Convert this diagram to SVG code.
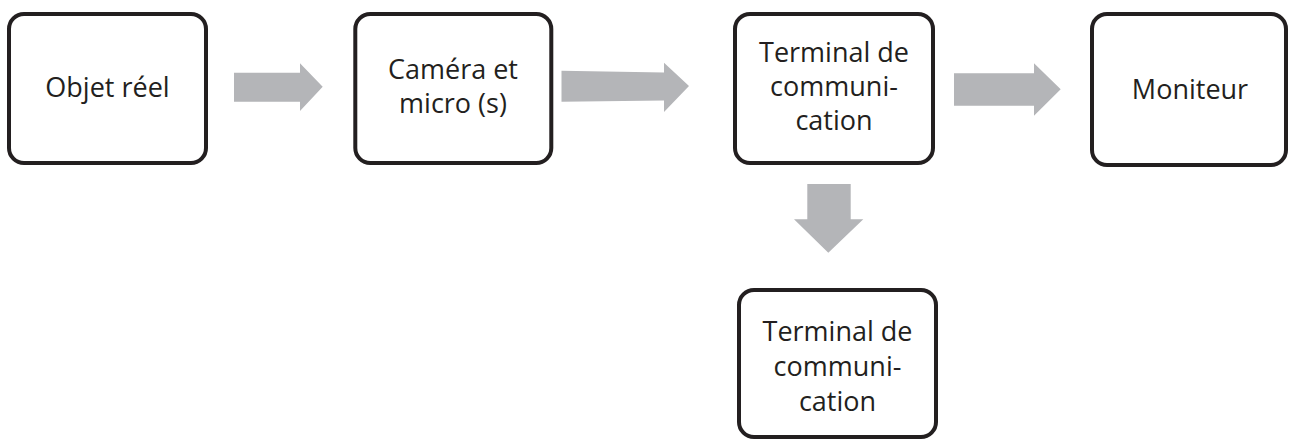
<svg xmlns="http://www.w3.org/2000/svg" width="1289" height="439" viewBox="0 0 1289 439">
<style>
.box{fill:#ffffff;stroke:#231f20;stroke-width:4}
.lbl{font-family:"Open Sans","Liberation Sans",sans-serif;font-size:27px;fill:#231f20;text-anchor:middle}
.arr{fill:#b4b5b8}
</style>
<rect width="1289" height="439" fill="#ffffff"/>
<g id="connectors">
<polygon class="arr" points="234,72.7 300,72.7 300,63.3 322.7,86.7 300,111 300,101.7 234,101.7"/>
<polygon class="arr" points="561.5,70.7 664,72.5 664,62.7 689,86 664,112 664,100.5 561.5,101.7"/>
<polygon class="arr" points="954,73.3 1034,73.3 1034,63.3 1060.7,89.3 1034,115.7 1034,105.7 954,105.7"/>
<polygon class="arr" points="807.3,184 850.7,184 850.7,219.3 863.3,219.3 828.3,252.7 794,219.3 807.3,219.3"/>
</g>
<g id="objet">
<rect class="box" x="9" y="14" width="197" height="149" rx="15"/>
<text class="lbl" x="107.5" y="97">Objet réel</text>
</g>
<g id="camera">
<rect class="box" x="355.3" y="14" width="196" height="149" rx="15"/>
<text class="lbl" x="453" y="79">Caméra et</text>
<text class="lbl" x="453" y="113">micro (s)</text>
</g>
<g id="terminal1">
<rect class="box" x="735" y="14" width="198" height="149" rx="15"/>
<text class="lbl" x="834" y="62">Terminal de</text>
<text class="lbl" x="834" y="96">communi-</text>
<text class="lbl" x="834" y="130">cation</text>
</g>
<g id="moniteur">
<rect class="box" x="1092" y="14" width="194" height="151" rx="15"/>
<text class="lbl" x="1190" y="99">Moniteur</text>
</g>
<g id="terminal2">
<rect class="box" x="739" y="290" width="197" height="147" rx="15"/>
<text class="lbl" x="837.5" y="341">Terminal de</text>
<text class="lbl" x="837.5" y="376">communi-</text>
<text class="lbl" x="837.5" y="411">cation</text>
</g>
</svg>
